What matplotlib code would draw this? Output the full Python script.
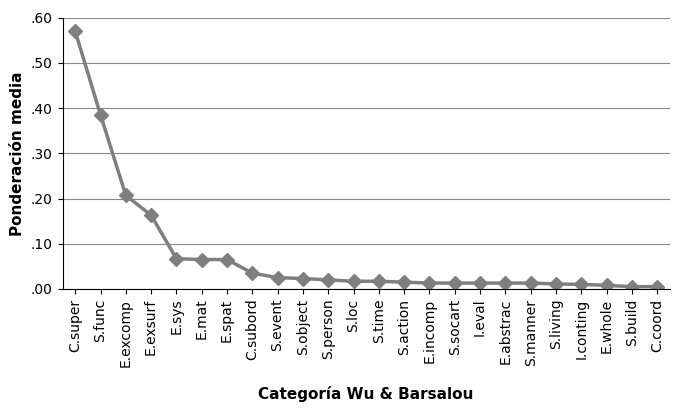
import matplotlib.pyplot as plt
from matplotlib.ticker import FuncFormatter

categories = ["C.super", "S.func", "E.excomp", "E.exsurf", "E.sys", "E.mat", "E.spat",
              "C.subord", "S.event", "S.object", "S.person", "S.loc", "S.time", "S.action",
              "E.incomp", "S.socart", "I.eval", "E.abstrac", "S.manner", "S.living",
              "I.conting", "E.whole", "S.build", "C.coord"]
values = [0.570, 0.385, 0.207, 0.163, 0.067, 0.065, 0.065, 0.035, 0.025, 0.023, 0.020,
          0.017, 0.017, 0.015, 0.013, 0.013, 0.013, 0.013, 0.013, 0.011, 0.010, 0.008,
          0.005, 0.005]

fig = plt.figure(figsize=(6.8, 4.11), dpi=100)
ax = fig.add_axes([0.092, 0.297, 0.893, 0.66])
x = range(len(categories))
ax.plot(x, values, color="#7f7f7f", lw=2.5, marker="D", ms=7, mfc="#7f7f7f", mec="#7f7f7f")
ax.set_xlim(-0.5, len(categories) - 0.5)
ax.set_ylim(0, 0.6)
ax.set_yticks([i / 10 for i in range(7)])
ax.yaxis.set_major_formatter(FuncFormatter(lambda v, p: f"{v:.2f}"[1:]))
ax.set_xticks(list(x))
ax.set_xticklabels(categories, rotation=90, fontsize=10)
ax.tick_params(axis="y", labelsize=10)
ax.grid(axis="y", color="#888888", lw=0.8)
ax.set_axisbelow(True)
for s in ["top", "right"]:
    ax.spines[s].set_visible(False)
ax.set_ylabel("Ponderación media", fontsize=11, fontweight="bold")
ax.set_xlabel("Categoría Wu & Barsalou", fontsize=11, fontweight="bold", labelpad=14)
fig.savefig("out.png", dpi=100)
